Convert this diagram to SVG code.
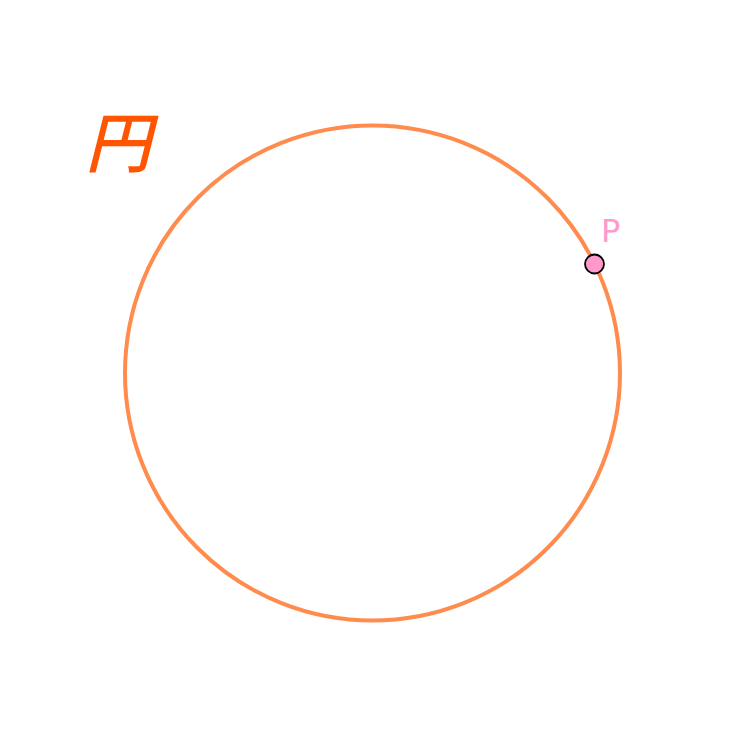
<svg xmlns="http://www.w3.org/2000/svg" width="743" height="743" viewBox="0 0 743 743">
<style>
.title{font-family:"Noto Sans CJK JP","Noto Sans CJK SC",serif;font-style:italic;font-weight:500;font-size:66px;fill:#ff5500}
.lbl{font-family:"DejaVu Sans","Liberation Sans",sans-serif;font-size:32px;fill:#ff99cc}
</style>
<rect width="743" height="743" fill="#ffffff"/>
<g id="title"><text class="title" x="85" y="167">円</text></g>
<g id="circle"><circle cx="372.5" cy="373" r="247.5" fill="none" stroke="#ff8c4d" stroke-width="4"/></g>
<g id="P">
<circle cx="594.5" cy="264" r="9.5" fill="#ff99cc" stroke="#000" stroke-width="1.8"/>
<text class="lbl" x="601" y="242">P</text>
</g>
</svg>
